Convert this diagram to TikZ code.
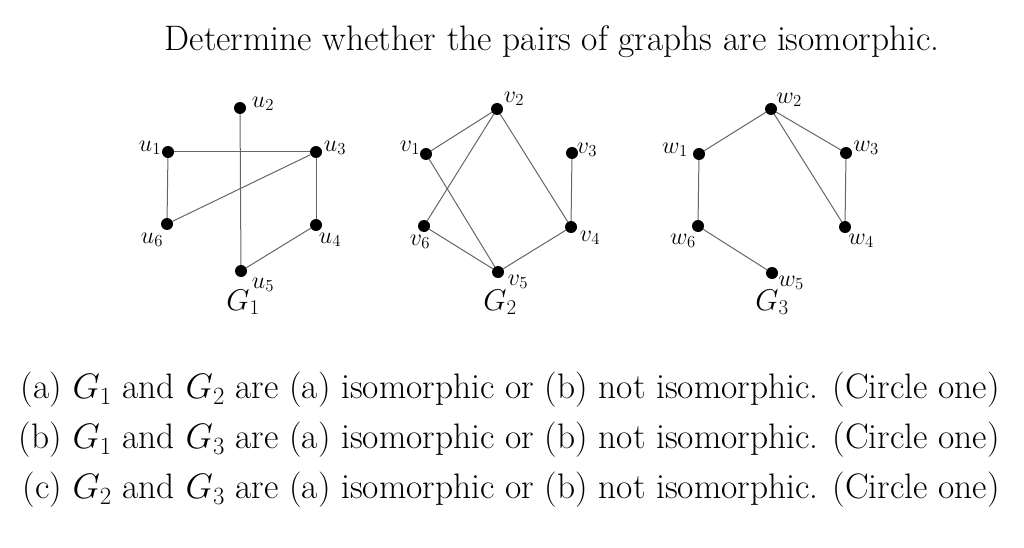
\RequirePackage{fix-cm}
\documentclass[tikz,border=0pt]{standalone}
\begin{document}
\begin{tikzpicture}[x=1pt,y=-1pt,
  vtx/.style={circle,fill=black,inner sep=0pt,minimum size=12pt},
  edge/.style={draw=black!60,line width=1pt},
  lbl/.style={font=\fontsize{24}{26}\selectfont,inner sep=0pt},
  glbl/.style={font=\fontsize{30}{34}\selectfont,inner sep=0pt},
  txt/.style={font=\fontsize{35.4}{42}\selectfont,inner sep=0pt}]
\useasboundingbox (0,0) rectangle (1024,548);
\node[txt] (title) at (552,42) {Determine whether the pairs of graphs are isomorphic.};
% G1
\node[vtx] (u1) at (168,152) {};
\node[vtx] (u2) at (240,108) {};
\node[vtx] (u3) at (316,152) {};
\node[vtx] (u4) at (316,225) {};
\node[vtx] (u5) at (241,271) {};
\node[vtx] (u6) at (167,224) {};
\draw[edge] (u1) -- (u3);
\draw[edge] (u2) -- (u5);
\draw[edge] (u1) -- (u6);
\draw[edge] (u6) -- (u3);
\draw[edge] (u3) -- (u4);
\draw[edge] (u4) -- (u5);
\node[lbl] (lu1) at (150,148) {$u_1$};
\node[lbl] (lu2) at (263,104) {$u_2$};
\node[lbl] (lu3) at (335,148) {$u_3$};
\node[lbl] (lu4) at (330,240) {$u_4$};
\node[lbl] (lu5) at (263,285) {$u_5$};
\node[lbl] (lu6) at (152,240) {$u_6$};
\node[glbl] (g1) at (243,302) {$G_1$};
% G2
\node[vtx] (v1) at (426,154) {};
\node[vtx] (v2) at (497,109) {};
\node[vtx] (v3) at (572,153) {};
\node[vtx] (v4) at (571,227) {};
\node[vtx] (v5) at (498,272) {};
\node[vtx] (v6) at (424,226) {};
\draw[edge] (v1) -- (v2);
\draw[edge] (v2) -- (v6);
\draw[edge] (v2) -- (v4);
\draw[edge] (v1) -- (v5);
\draw[edge] (v6) -- (v5);
\draw[edge] (v5) -- (v4);
\draw[edge] (v3) -- (v4);
\node[lbl] (lv1) at (410,148) {$v_1$};
\node[lbl] (lv2) at (514,99) {$v_2$};
\node[lbl] (lv3) at (587,150) {$v_3$};
\node[lbl] (lv4) at (590,238) {$v_4$};
\node[lbl] (lv5) at (518,282) {$v_5$};
\node[lbl] (lv6) at (420,242) {$v_6$};
\node[glbl] (g2) at (500,302) {$G_2$};
% G3
\node[vtx] (w1) at (699,154) {};
\node[vtx] (w2) at (771,109) {};
\node[vtx] (w3) at (846,153) {};
\node[vtx] (w4) at (845,227) {};
\node[vtx] (w5) at (772,273) {};
\node[vtx] (w6) at (698,226) {};
\draw[edge] (w1) -- (w2);
\draw[edge] (w2) -- (w3);
\draw[edge] (w2) -- (w4);
\draw[edge] (w3) -- (w4);
\draw[edge] (w1) -- (w6);
\draw[edge] (w6) -- (w5);
\node[lbl] (lw1) at (675,150) {$w_1$};
\node[lbl] (lw2) at (789,100) {$w_2$};
\node[lbl] (lw3) at (866,148) {$w_3$};
\node[lbl] (lw4) at (861,241) {$w_4$};
\node[lbl] (lw5) at (791,283) {$w_5$};
\node[lbl] (lw6) at (683,241) {$w_6$};
\node[glbl] (g3) at (772,302) {$G_3$};
% questions
\node[txt,anchor=east] (qa) at (1000,390) {(a) $G_1$ and $G_2$ are (a) isomorphic or (b) not isomorphic. (Circle one)};
\node[txt,anchor=east] (qb) at (1000,440) {(b) $G_1$ and $G_3$ are (a) isomorphic or (b) not isomorphic. (Circle one)};
\node[txt,anchor=east] (qc) at (1000,490) {(c) $G_2$ and $G_3$ are (a) isomorphic or (b) not isomorphic. (Circle one)};
\end{tikzpicture}
\end{document}
